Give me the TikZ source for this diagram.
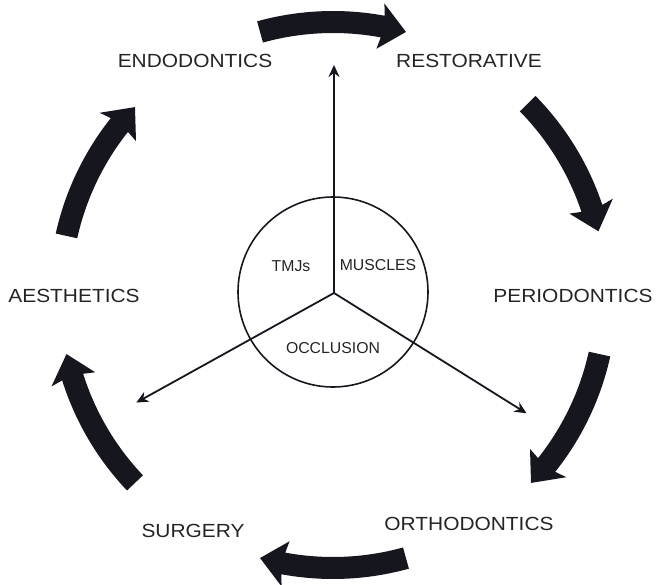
\documentclass[tikz,border=0pt]{standalone}
\usepackage{fontspec}
\usepackage{graphicx}
\setmainfont{Liberation Sans}
\usetikzlibrary{arrows.meta,calc}
\definecolor{ink}{RGB}{22,22,30}
\definecolor{txt}{RGB}{36,36,36}
\newcommand{\wide}[1]{\scalebox{1.1}[1]{#1}}
\begin{document}
\begin{tikzpicture}[x=1pt,y=1pt,
  lab/.style={text=txt,font=\fontsize{19}{21}\selectfont,inner sep=0pt},
  inlab/.style={text=txt,font=\fontsize{15.8}{18}\selectfont,inner sep=0pt},
  thinarrow/.style={draw=ink,line width=1.8pt,-{Stealth[length=12pt,width=11pt,inset=4pt]}},
  spoke/.style={draw=ink,line width=1.8pt}]
\useasboundingbox (0,0) rectangle (656,-585);
\coordinate (C) at (333,-295);
\coordinate (hub) at (334,-293);
% central ring
\node[circle, draw=ink, line width=1.6pt, minimum size=190pt, inner sep=0pt] (ring) at (333,-292) {};
% spokes with arrow tips
\coordinate (tA) at ($(hub)+(90:228)$);
\coordinate (tB) at ($(hub)+(209:226)$);
\coordinate (tC) at ($(hub)+(328:227)$);
\draw[thinarrow] (hub) -- (tA);
\draw[thinarrow] (hub) -- (tB);
\draw[thinarrow] (hub) -- (tC);
% inner labels
\node[inlab] (tmj) at (291,-266) {TMJs};
\node[inlab] (mus) at (378,-265) {MUSCLES};
\node[inlab] (occ) at (333,-348) {OCCLUSION};
% outer labels
\node[lab] (endo) at (195,-61) {\wide{ENDODONTICS}};
\node[lab] (rest) at (469,-61) {\wide{RESTORATIVE}};
\node[lab] (perio) at (573,-296) {\wide{PERIODONTICS}};
\node[lab] (aest) at (74,-296) {\wide{AESTHETICS}};
\node[lab] (surg) at (193,-531) {\wide{SURGERY}};
\node[lab] (orth) at (469,-524) {\wide{ORTHODONTICS}};
% thick curved arrows
\foreach \c in {90,29,-28,-90,-152,152}{
  \pgfmathsetmacro\ta{\c+15.5}
  \pgfmathsetmacro\tb{\c-10.5}
  \pgfmathsetmacro\tc{\c-10}
  \pgfmathsetmacro\tp{\c-15.5}
  \fill[ink] ($(C)+(\ta:284)$) arc[start angle=\ta,end angle=\tb,radius=284]
    -- ($(C)+(\tc:296)$) -- ($(C)+(\tp:273)$) -- ($(C)+(\tc:250)$)
    -- ($(C)+(\tb:262)$) arc[start angle=\tb,end angle=\ta,radius=262] -- cycle;
}
\end{tikzpicture}
\end{document}
